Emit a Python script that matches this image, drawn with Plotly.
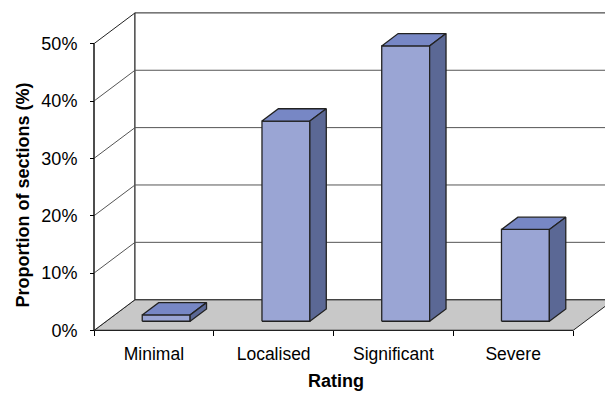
import plotly.graph_objects as go

# ---- data ----
categories = ["Minimal", "Localised", "Significant", "Severe"]
values = [1.1, 34.9, 48.0, 16.0]          # proportion of sections (%)
y_ticks = [0, 10, 20, 30, 40, 50]
y_tick_text = ["0%", "10%", "20%", "30%", "40%", "50%"]
y_title = "Proportion of sections (%)"
x_title = "Rating"

# ---- geometry / style ----
W, H = 605, 394
PX_CAT = 119.75          # pixels per category
PX_PCT = 5.78            # pixels per percent
X0_PX, Y0_PX = 94, 333   # pixel of front-left-bottom corner
DX = 41 / PX_CAT         # depth offset in category units
DY = 31 / PX_PCT         # depth offset in percent units
YMAX = 50
BAR_W = 0.4
D0, D1 = 0.3, 0.7        # bar depth extent (fraction of floor depth)

L_PX, R_PX, T_PX, B_PX = 88, 605, 8, 340
x_range = [-0.5 - (X0_PX - L_PX) / PX_CAT, -0.5 + (R_PX - X0_PX) / PX_CAT]
y_range = [-(B_PX - Y0_PX) / PX_PCT, (Y0_PX - T_PX) / PX_PCT]

FRONT = "#9aa5d4"
TOP = "#7787c5"
SIDE = "#5b6895"
EDGE = "#222222"
FLOOR = "#c8c8c8"
GRID = "#555555"

n = len(categories)
xl, xr = -0.5, n - 0.5


def P(x, y, d):
    return x + d * DX, y + d * DY


def poly(pts, fill, line_color=EDGE, width=1):
    xs = [P(*p)[0] for p in pts] + [P(*pts[0])[0]]
    ys = [P(*p)[1] for p in pts] + [P(*pts[0])[1]]
    return go.Scatter(x=xs, y=ys, mode="lines", fill="toself" if fill else None,
                      fillcolor=fill, line=dict(color=line_color, width=width),
                      hoverinfo="skip", showlegend=False)


def seg(pts, color=EDGE, width=1):
    xs, ys = [], []
    for a, b in pts:
        xs += [P(*a)[0], P(*b)[0], None]
        ys += [P(*a)[1], P(*b)[1], None]
    return go.Scatter(x=xs, y=ys, mode="lines", line=dict(color=color, width=width),
                      hoverinfo="skip", showlegend=False)


fig = go.Figure()
# floor
fig.add_trace(poly([(xl, 0, 0), (xr, 0, 0), (xr, 0, 1), (xl, 0, 1)], FLOOR))
# left wall
fig.add_trace(poly([(xl, 0, 0), (xl, 0, 1), (xl, YMAX, 1), (xl, YMAX, 0)], "white"))
# back wall
fig.add_trace(poly([(xl, 0, 1), (xr, 0, 1), (xr, YMAX, 1), (xl, YMAX, 1)], "white"))
# gridlines
grid = []
for t in y_ticks[1:-1]:
    grid.append(((xl, t, 1), (xr, t, 1)))
    grid.append(((xl, t, 0), (xl, t, 1)))
fig.add_trace(seg(grid, GRID, 1))

# bars
for i, v in enumerate(values):
    a, b = i - BAR_W / 2, i + BAR_W / 2
    fig.add_trace(poly([(a, 0, D0), (b, 0, D0), (b, v, D0), (a, v, D0)], FRONT, width=1.3))
    fig.add_trace(poly([(a, v, D0), (b, v, D0), (b, v, D1), (a, v, D1)], TOP, width=1.3))
    fig.add_trace(poly([(b, 0, D0), (b, 0, D1), (b, v, D1), (b, v, D0)], SIDE, width=1.3))

# front edges
fig.add_trace(seg([((xl, 0, 0), (xl, YMAX, 0)), ((xl, 0, 0), (xr, 0, 0))], EDGE, 1.2))

fig.update_layout(
    width=W, height=H,
    margin=dict(l=0, r=0, t=0, b=0),
    paper_bgcolor="white", plot_bgcolor="white",
    font=dict(family="Liberation Sans, Arial", color="black"),
    xaxis=dict(
        domain=[L_PX / W, 1], range=x_range, anchor="free",
        position=(H - Y0_PX) / H,
        tickmode="array", tickvals=list(range(n)), ticktext=categories,
        ticks="", showgrid=False, zeroline=False, showline=False,
        tickfont=dict(size=17.5), ticklabelstandoff=11,
        minor=dict(tickmode="array", tickvals=[k - 0.5 for k in range(n + 1)],
                   ticks="outside", ticklen=5, tickcolor="black", tickwidth=1,
                   showgrid=False),
    ),
    yaxis=dict(
        domain=[(H - B_PX) / H, (H - T_PX) / H], range=y_range, anchor="free",
        position=X0_PX / W,
        tickmode="array", tickvals=y_ticks, ticktext=y_tick_text,
        ticks="outside", ticklen=4, tickcolor="black",
        showgrid=False, zeroline=False, showline=False,
        tickfont=dict(size=18), ticklabelstandoff=9,
    ),
    annotations=[
        dict(text=y_title, xref="paper", yref="paper", x=22 / W, y=1 - 197 / H,
             textangle=-90, showarrow=False, xanchor="center", yanchor="middle",
             font=dict(size=18, weight="bold")),
        dict(text=x_title, xref="paper", yref="paper", x=336 / W, y=1 - 384 / H,
             showarrow=False, xanchor="center", yanchor="middle",
             font=dict(size=18, weight="bold")),
    ],
)

fig.write_html("out.html")
